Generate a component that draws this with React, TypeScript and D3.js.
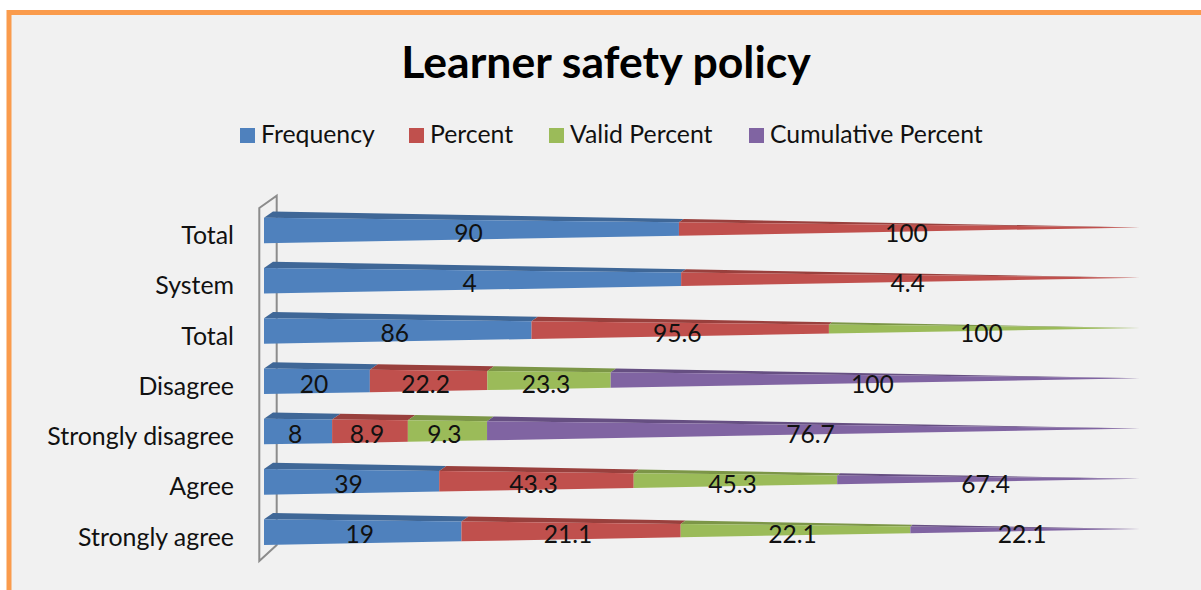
import React from "react";
import * as d3 from "d3";

const categories = ["Total", "System", "Total", "Disagree", "Strongly disagree", "Agree", "Strongly agree"];
const seriesNames = ["Frequency", "Percent", "Valid Percent", "Cumulative Percent"];
const frequency = [90, 4, 86, 20, 8, 39, 19];
const percent = [100, 4.4, 95.6, 22.2, 8.9, 43.3, 21.1];
const validPercent = [null, null, 100, 23.3, 9.3, 45.3, 22.1];
const cumulativePercent = [null, null, null, 100, 76.7, 67.4, 22.1];
const colors = ["#4F81BD", "#C0504D", "#9BBB59", "#8064A2"];
const topColors = ["#3F6797", "#99403D", "#7C9647", "#664F82"];
const legendX = [240, 409, 549, 749];

const columns = [frequency, percent, validPercent, cumulativePercent];
const rows = categories.map((c, i) => {
  const r: Record<string, number> = { idx: i };
  seriesNames.forEach((s, j) => (r[s] = columns[j][i] ?? 0));
  return r;
});
const stacked = d3.stack<any>().keys(seriesNames).offset(d3.stackOffsetExpand)(rows);

const FONT = "Lato, 'Open Sans', sans-serif";
const x = d3.scaleLinear().domain([0, 1]).range([264, 1140]);
const y = d3.scalePoint<number>().domain(categories.map((_, i) => i)).range([217.7, 519.3]);
const H = 25.6, APEX = 9.7, DX = 9, DY = 6.3;

export default function App() {
  const apexX = x(1);
  const pt = (f: number, top: number, kind: "top" | "bottom" | "back") => {
    const ax = apexX, ay = top + APEX;
    const sx = kind === "back" ? x(0) + DX : x(0);
    const sy = kind === "top" ? top : kind === "bottom" ? top + H : top - DY;
    return [sx + (ax - sx) * f, sy + (ay - sy) * f];
  };
  const line = d3.line();
  return (
    <svg width={1201} height={590} style={{ position: "absolute", left: 0, top: 0, display: "block" }}>
      <rect x={0} y={0} width={1201} height={590} fill="#fff" />
      <rect x={9} y={12.5} width={1192} height={577.5} fill="#F1F1F1" />
      <path d={line([[9, 590], [9, 12.5], [1201, 12.5]] as any)!} fill="none" stroke="#FA9B4C" strokeWidth={5} />
      <text x={606} y={78} textAnchor="middle" fontFamily={FONT} fontWeight={700} fontSize={44.6} fill="#000">Learner safety policy</text>
      {seriesNames.map((s, j) => (
        <g key={s}>
          <rect x={legendX[j]} y={128} width={15} height={15} fill={colors[j]} />
          <text x={legendX[j] + 21} y={143} fontFamily={FONT} fontSize={24.8} fill="#111">{s}</text>
        </g>
      ))}
      <path d={line([[259.3, 208], [276.7, 195.7], [276.7, 545], [259.3, 561]] as any)! + "Z"} fill="none" stroke="#8C8C8C" strokeWidth={2} />
      {categories.map((c, i) => (
        <text key={i} x={234} y={y(i)! + 26.3} textAnchor="end" fontFamily={FONT} fontSize={24.9} fill="#111">{c}</text>
      ))}
      {categories.map((_, i) => {
        const top = y(i)!;
        return stacked.map((ser, j) => {
          const [f0, f1] = ser[i] as any as [number, number];
          if (f1 - f0 <= 0) return null;
          const topFace = [pt(f0, top, "top"), pt(f0, top, "back"), pt(f1, top, "back"), pt(f1, top, "top")];
          const front = [pt(f0, top, "top"), pt(f1, top, "top"), pt(f1, top, "bottom"), pt(f0, top, "bottom")];
          return (
            <g key={j}>
              <path d={line(topFace as any)! + "Z"} fill={topColors[j]} />
              <path d={line(front as any)! + "Z"} fill={colors[j]} />
            </g>
          );
        });
      })}
      {categories.map((_, i) => {
        const top = y(i)!;
        return stacked.map((ser, j) => {
          const [f0, f1] = ser[i] as any as [number, number];
          const v = columns[j][i];
          if (v == null) return null;
          return (
            <text key={j} x={x((f0 + f1) / 2) - 3} y={top + 24} textAnchor="middle" fontFamily={FONT} fontSize={24.6} fill="#111">{String(v)}</text>
          );
        });
      })}
    </svg>
  );
}
